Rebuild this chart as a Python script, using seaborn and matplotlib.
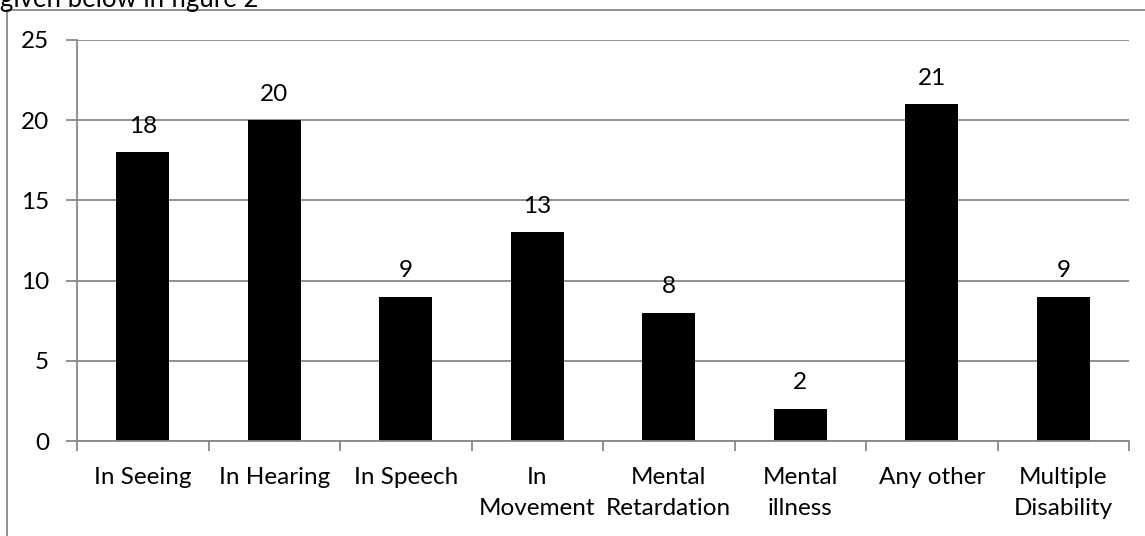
import matplotlib
matplotlib.use("Agg")
import matplotlib.pyplot as plt
from matplotlib.lines import Line2D
from matplotlib.ticker import FixedLocator
import seaborn as sns
import pandas as pd

categories = ["In Seeing", "In Hearing", "In Speech", "In\nMovement", "Mental\nRetardation",
              "Mental\nillness", "Any other", "Multiple\nDisability"]
counts = [18, 20, 9, 13, 8, 2, 21, 9]
y_ticks = [0, 5, 10, 15, 20, 25]

sns.set_theme(style="white")
plt.rcParams["font.family"] = ["Lato", "DejaVu Sans"]

W, H = 1145, 536
FS = 17.5
fig = plt.figure(figsize=(W / 100, H / 100), dpi=100)
ax = fig.add_axes([77 / W, 1 - 441 / H, (1129 - 77) / W, (441 - 40) / H])

df = pd.DataFrame({"category": categories, "count": counts})
sns.barplot(data=df, x="category", y="count", color="black", width=0.4,
            saturation=1, ax=ax, edgecolor="black", linewidth=0)

grid_c = "#888888"
ax.set_ylim(0, 25)
ax.set_xlim(-0.5, len(categories) - 0.5)
ax.set_yticks(y_ticks)
ax.yaxis.grid(True, color=grid_c, linewidth=1.3)
ax.set_axisbelow(True)
for s in ["top", "right"]:
    ax.spines[s].set_visible(False)
for s in ["left", "bottom"]:
    ax.spines[s].set_color(grid_c)
    ax.spines[s].set_linewidth(1.3)

ax.set_xlabel("")
ax.set_ylabel("")
ax.tick_params(axis="x", which="major", length=0, pad=19, labelsize=FS, colors="black")
ax.xaxis.set_minor_locator(FixedLocator([i - 0.5 for i in range(len(categories) + 1)]))
ax.tick_params(axis="x", which="minor", length=7, width=1.3, color=grid_c, direction="out", bottom=True)
ax.tick_params(axis="y", length=8, width=1.3, color=grid_c, direction="out", left=True,
               pad=12, labelsize=FS, labelcolor="black")
for lbl in ax.get_xticklabels():
    lbl.set_linespacing(1.55)
    lbl.set_verticalalignment("top")

for i, v in enumerate(counts):
    ax.annotate(str(v), (i, v), xytext=(0, 14), textcoords="offset points",
                ha="center", va="baseline", fontsize=FS, color="black")

# outer chart frame (left and top edges)
fig.add_artist(Line2D([7 / W, 7 / W], [0, 1 - 10 / H], transform=fig.transFigure,
                      color=grid_c, linewidth=1.3))
fig.add_artist(Line2D([7 / W, 1], [1 - 10 / H, 1 - 10 / H], transform=fig.transFigure,
                      color=grid_c, linewidth=1.3))
fig.text(0, 1 - 7 / H, "given below in figure 2", fontsize=18.5, ha="left", va="baseline", color="black")

fig.savefig("out.png", dpi=100)
